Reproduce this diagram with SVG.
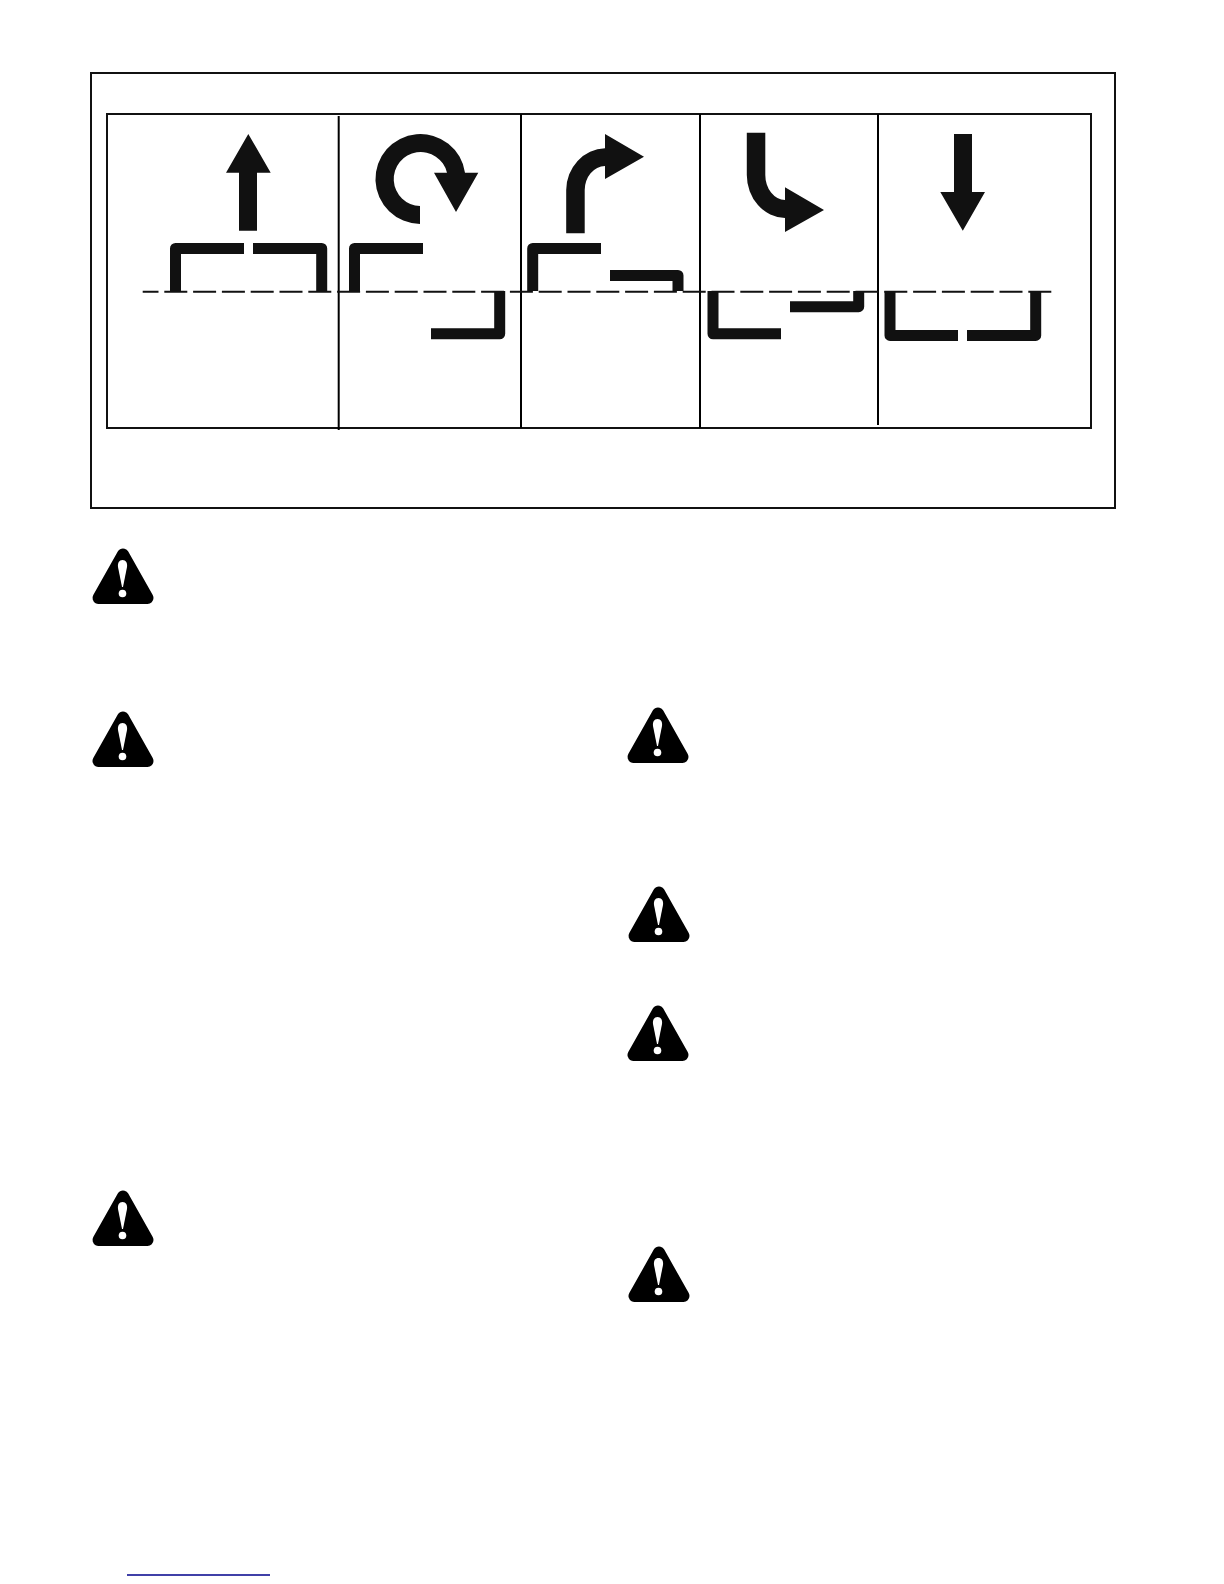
<svg xmlns="http://www.w3.org/2000/svg" width="1224" height="1584" viewBox="0 0 1224 1584">
<style>
.frame{fill:none;stroke:#111;stroke-width:2}
.div{stroke:#000;stroke-width:2;fill:none}
.ink{fill:#111}
.br{fill:none;stroke:#111;stroke-width:11;stroke-linejoin:round}
.dash{stroke:#111;stroke-width:2;stroke-dasharray:23 5.800;stroke-dashoffset:7.200;fill:none}
</style>
<defs>
<g id="warn">
<path d="M31 6.500L6.500 50H55.500Z" fill="#000" stroke="#000" stroke-width="12" stroke-linejoin="round"/>
<path d="M30.500 12C27 12 25.500 15 26 19L30 39H31L35 19C35.500 15 34 12 30.500 12Z" fill="#fff"/>
<circle cx="30.500" cy="45.500" r="3.800" fill="#fff"/>
</g>
</defs>
<rect width="1224" height="1584" fill="#fff"/>
<g id="frames">
<rect class="frame" x="91" y="73" width="1024" height="435"/>
<rect class="frame" x="107" y="114" width="984" height="314"/>
<path class="div" d="M338.700 116V430M521 114V428M700 114V428M878 114V425"/>
</g>
<g id="connectors">
<path class="dash" d="M142.700 291.700H1051.500"/>
</g>
<g id="arrow-up">
<path class="ink" d="M248.300 134L270.700 172.700H257V230.700H239V172.700H226Z"/>
<path class="br" d="M244 248.500H175.500V291M253 248.500H321.700V291"/>
</g>
<g id="arrow-rotate">
<path class="ink" d="M420 224A45 45 0 1 1 465 172.700H478.300L456 212L434 172.700H447A27 27 0 1 0 420 206Z"/>
<path class="br" d="M423 248.500H354.500V291M431 333.800H499.700V291"/>
</g>
<g id="arrow-right-up">
<path class="ink" d="M566.200 233.300V190A40 42 0 0 1 605 148.300V134L644 156.700L605 179V166A21 24 0 0 0 584.700 190V233.300Z"/>
<path class="br" d="M601 248.500H532.700V291M610 275.400H678V291"/>
</g>
<g id="arrow-right-down">
<path class="ink" d="M746.800 132.700H765.300V175A20 25 0 0 0 785 200V187.300L824 210L785 232V218A39 43 0 0 1 746.800 175Z"/>
<path class="br" d="M781 333.800H713V291M790 306.700H858.700V291"/>
</g>
<g id="arrow-down">
<path class="ink" d="M954 134H972V192H985L962.800 230.700L940.300 192H954Z"/>
<path class="br" d="M958 335.400H890V291M967 335.400H1035.700V291"/>
</g>
<g id="warnings">
<use id="warning-1" href="#warn" x="92" y="548"/>
<use id="warning-2" href="#warn" x="92" y="711"/>
<use id="warning-3" href="#warn" x="627" y="707"/>
<use id="warning-4" href="#warn" x="628" y="886"/>
<use id="warning-5" href="#warn" x="627" y="1005"/>
<use id="warning-6" href="#warn" x="92" y="1190"/>
<use id="warning-7" href="#warn" x="628" y="1246"/>
</g>
<path id="rule" d="M127 1575H270" stroke="#00008b" stroke-width="1.500" fill="none"/>
</svg>
